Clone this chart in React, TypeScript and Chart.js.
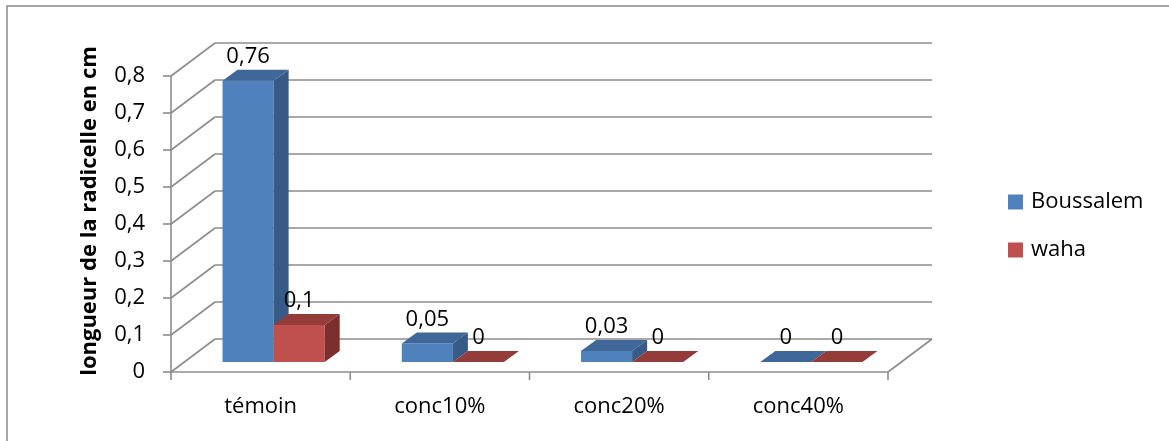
import { useEffect, useRef } from "react";
import { Chart, registerables } from "chart.js";

Chart.register(...registerables);

// ---- data ----
const categories = ["témoin", "conc10%", "conc20%", "conc40%"];
const seriesNames = ["Boussalem", "waha"];
const boussalem = [0.76, 0.05, 0.03, 0];
const waha = [0.1, 0, 0, 0];
const yMin = 0;
const yMax = 0.8;
const yStep = 0.1;
const yTitle = "longueur de la radicelle en cm";

// ---- look ----
const W = 1169;
const H = 441;
const FONT = "'Open Sans', 'Liberation Sans', sans-serif";
const GRID = "#8c8c8c";
const AREA = { left: 171, right: 888, top: 76, bottom: 372 };
const WALL = { dx: 44, dy: -33 }; // front plane -> back wall
const BAR_FRONT = { dx: 13, dy: -10 }; // front face of the boxes
const BAR_DEPTH = { dx: 15, dy: -11 }; // thickness of the boxes
const faces = [
  { front: "#4F81BD", top: "#3F6797", side: "#375A86" },
  { front: "#C0504D", top: "#943C39", side: "#7C302E" },
];

const fmt = (v: number) => String(Math.round(v * 100) / 100).replace(".", ",");

function line(ctx: CanvasRenderingContext2D, x1: number, y1: number, x2: number, y2: number) {
  ctx.beginPath();
  ctx.moveTo(x1, y1);
  ctx.lineTo(x2, y2);
  ctx.stroke();
}

function poly(ctx: CanvasRenderingContext2D, pts: number[][], color: string) {
  ctx.beginPath();
  ctx.moveTo(pts[0][0], pts[0][1]);
  for (let i = 1; i < pts.length; i++) ctx.lineTo(pts[i][0], pts[i][1]);
  ctx.closePath();
  ctx.fillStyle = color;
  ctx.fill();
}

const scene3d = {
  id: "scene3d",
  beforeDatasetsDraw(chart: any) {
    const ctx: CanvasRenderingContext2D = chart.ctx;
    const { left, right, top, bottom } = chart.chartArea;
    const ys = chart.scales.y;
    const xs = chart.scales.x;
    ctx.save();
    ctx.strokeStyle = GRID;
    ctx.lineWidth = 1.6;
    ctx.lineCap = "butt";
    for (const t of ys.ticks) {
      const py = ys.getPixelForValue(t.value);
      line(ctx, left, py, left + WALL.dx, py + WALL.dy);
      line(ctx, left + WALL.dx, py + WALL.dy, right + WALL.dx, py + WALL.dy);
      line(ctx, left - 8, py, left, py);
    }
    line(ctx, left, top, left, bottom);
    line(ctx, left, bottom, right, bottom);
    line(ctx, right, bottom, right + WALL.dx, bottom + WALL.dy);
    for (let i = 0; i <= categories.length; i++) {
      const px = xs.getPixelForValue(i - 0.5);
      line(ctx, px, bottom, px, bottom + 8);
    }
    ctx.restore();
  },
  afterDatasetsDraw(chart: any) {
    const ctx: CanvasRenderingContext2D = chart.ctx;
    ctx.save();
    const labels: { x: number; y: number; text: string }[] = [];
    chart.data.datasets.forEach((ds: any, d: number) => {
      const meta = chart.getDatasetMeta(d);
      const c = faces[d];
      meta.data.forEach((bar: any, i: number) => {
        const { x, y, base, width } = bar.getProps(["x", "y", "base", "width"], true);
        const x0 = x - width / 2 + BAR_FRONT.dx;
        const x1 = x + width / 2 + BAR_FRONT.dx;
        const yt = y + BAR_FRONT.dy;
        const yb = base + BAR_FRONT.dy;
        // front
        if (yb - yt > 0) {
          ctx.fillStyle = c.front;
          ctx.fillRect(x0, yt, x1 - x0, yb - yt);
        }
        // top
        poly(
          ctx,
          [
            [x0, yt],
            [x1, yt],
            [x1 + BAR_DEPTH.dx, yt + BAR_DEPTH.dy],
            [x0 + BAR_DEPTH.dx, yt + BAR_DEPTH.dy],
          ],
          c.top
        );
        // right side
        if (yb - yt > 0) {
          poly(
            ctx,
            [
              [x1, yt],
              [x1 + BAR_DEPTH.dx, yt + BAR_DEPTH.dy],
              [x1 + BAR_DEPTH.dx, yb + BAR_DEPTH.dy],
              [x1, yb],
            ],
            c.side
          );
        }
        labels.push({ x: (x0 + x1) / 2, y: yt + BAR_DEPTH.dy - 13, text: fmt(ds.data[i]) });
      });
    });
    ctx.fillStyle = "#000";
    ctx.font = `22px ${FONT}`;
    ctx.textAlign = "center";
    ctx.textBaseline = "middle";
    for (const l of labels) ctx.fillText(l.text, l.x, l.y);
    ctx.restore();
  },
  afterDraw(chart: any) {
    const ctx: CanvasRenderingContext2D = chart.ctx;
    ctx.save();
    // outer frame
    ctx.strokeStyle = "#898989";
    ctx.lineWidth = 1.5;
    ctx.strokeRect(7, 6, W + 20, H + 20);
    // axis title
    ctx.fillStyle = "#000";
    ctx.font = `bold 22px ${FONT}`;
    ctx.textAlign = "center";
    ctx.textBaseline = "middle";
    ctx.translate(90, 211);
    ctx.rotate(-Math.PI / 2);
    ctx.fillText(yTitle, 0, 0);
    ctx.restore();
    // legend
    ctx.save();
    ctx.font = `22px ${FONT}`;
    ctx.textAlign = "left";
    ctx.textBaseline = "middle";
    seriesNames.forEach((name, k) => {
      const cy = 202 + k * 48;
      ctx.fillStyle = faces[k].front;
      ctx.fillRect(1008, cy - 7.5, 15, 15);
      ctx.fillStyle = "#000";
      ctx.fillText(name, 1031, cy);
    });
    ctx.restore();
  },
};

export default function App() {
  const ref = useRef<HTMLCanvasElement | null>(null);

  useEffect(() => {
    if (!ref.current) return;
    const chart = new Chart(ref.current, {
      type: "bar",
      data: {
        labels: categories,
        datasets: [
          { label: seriesNames[0], data: boussalem, backgroundColor: "rgba(0,0,0,0)" },
          { label: seriesNames[1], data: waha, backgroundColor: "rgba(0,0,0,0)" },
        ],
      },
      options: {
        animation: false,
        responsive: false,
        devicePixelRatio: 1,
        events: [],
        categoryPercentage: 0.57,
        barPercentage: 1,
        layout: { padding: { left: 0, top: AREA.top, right: W - AREA.right, bottom: 0 } },
        plugins: { legend: { display: false }, tooltip: { enabled: false }, title: { display: false } },
        scales: {
          y: {
            min: yMin,
            max: yMax,
            ticks: {
              stepSize: yStep,
              padding: 26,
              color: "#000",
              font: { family: FONT, size: 22 },
              callback: (v: any) => fmt(Number(v)),
            },
            grid: { display: false, drawTicks: false },
            border: { display: false },
            afterFit: (s: any) => {
              s.width = AREA.left;
            },
          },
          x: {
            ticks: { padding: 22, color: "#000", font: { family: FONT, size: 22 } },
            grid: { display: false, drawTicks: false },
            border: { display: false },
            afterFit: (s: any) => {
              s.height = H - AREA.bottom;
            },
          },
        },
      } as any,
      plugins: [scene3d],
    });
    return () => chart.destroy();
  }, []);

  return (
    <div style={{ position: "absolute", left: 0, top: 0, width: W, height: H, background: "#fff" }}>
      <canvas ref={ref} width={W} height={H} style={{ display: "block" }} />
    </div>
  );
}
